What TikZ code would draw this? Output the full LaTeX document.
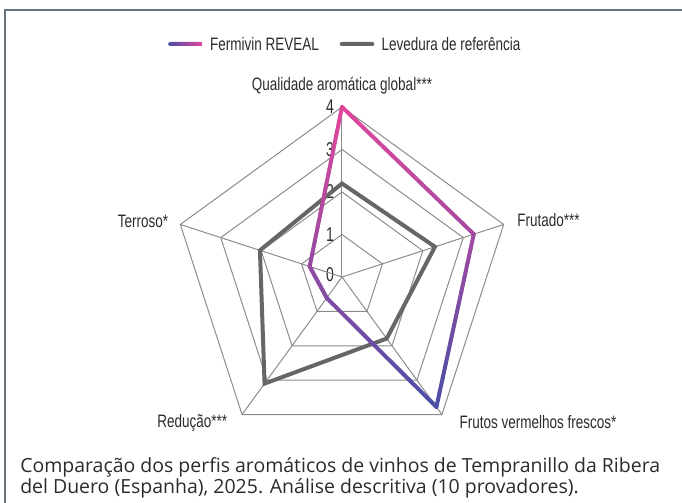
\documentclass[tikz,border=0pt]{standalone}
\usepackage{fontspec}
\newfontfamily\labelfont[FakeStretch=0.75]{Liberation Sans}
\newfontfamily\tickfont[FakeStretch=0.7]{Liberation Sans}
\newfontfamily\captionfont{Open Sans}
\usetikzlibrary{calc,positioning}
\definecolor{colorgrid}{HTML}{8C8C8C}
\definecolor{colorref}{HTML}{666666}
\definecolor{colorpink}{HTML}{E4479C}
\definecolor{colorblue}{HTML}{4B4FA6}
\definecolor{colorframe}{HTML}{66727C}
\definecolor{colortext}{HTML}{2B2B2B}
\tikzset{
  gridline/.style={colorgrid, line width=0.75pt},
  edgeref/.style={colorref, line width=3pt},
  edgefv/.style={line width=3pt, line cap=round},
  axislabel/.style={colortext, inner sep=1pt, font=\labelfont\fontsize{13.5}{15}\selectfont},
  ticklabel/.style={colortext, inner sep=0pt, font=\tickfont\fontsize{15}{16}\selectfont},
  legendbar/.style={minimum width=26pt, minimum height=3pt, inner sep=0pt, rounded corners=1.5pt},
  captiontext/.style={colortext, inner sep=0pt, align=left, font=\captionfont\fontsize{14.6}{15.75}\selectfont}
}

\begin{document}
\begin{tikzpicture}[x=0.75pt, y=0.75pt]
\useasboundingbox (-342,-226) rectangle (340,277);
\draw[colorframe, line width=1.2pt] (-337,-226) -- (-337,267) -- (340,267);

% grid
\coordinate (c) at (0,0);
\foreach \l in {1,...,4} {
  \draw[gridline] (90:\l*42.5) foreach \a in {18,-54,-126,162} {-- (\a:\l*42.5)} -- cycle;
  \node[ticklabel] (tick\l) at (-12,\l*42.5) {\l};
}
\node[ticklabel] (tick0) at (-12,2) {0};

\foreach \a/\n/\v/\w in {90/qual/4/2.2, 18/frut/3.26/2.3, -54/verm/3.78/1.79, -126/redu/0.61/3.1, 162/terr/0.8/2.03} {
  \coordinate (ax\n) at (\a:170);
  \coordinate (fv\n) at (\a:\v*42.5);
  \coordinate (rf\n) at (\a:\w*42.5);
  \draw[gridline] (c) -- (ax\n);
}

% axis labels
\node[axislabel, above=8pt of axqual] (lqual) {Qualidade aromática global***};
\node[axislabel, right=9pt of axfrut, yshift=3pt] (lfrut) {Frutado***};
\node[axislabel, right=12pt of axverm, yshift=-6pt] (lverm) {Frutos vermelhos frescos*};
\node[axislabel, left=10pt of axredu, yshift=-6pt] (lredu) {Redução***};
\node[axislabel, left=8pt of axterr, yshift=2pt] (lterr) {Terroso*};

% data
\draw[edgeref] (rfqual) -- (rffrut) -- (rfverm) -- (rfredu) -- (rfterr) -- cycle;
\foreach \a/\b/\pa/\pb in {qual/frut/100/58, frut/verm/58/0, verm/redu/0/36, redu/terr/36/47, terr/qual/47/100} {
  \foreach \t in {0,...,11} {
    \pgfmathtruncatemacro\p{\pa+(\pb-\pa)*(\t+0.5)/12}
    \draw[edgefv, colorpink!\p!colorblue] ($(fv\a)!\t/12!(fv\b)$) -- ($(fv\a)!{(\t+1)/12}!(fv\b)$);
  }
}

% legend
\node[legendbar, left color=colorblue, right color=colorpink] (lgfv) at (-156.5,233) {};
\node[axislabel, anchor=west, right=4pt of lgfv] (lgfvtext) {Fermivin REVEAL};
\node[legendbar, fill=colorref] (lgref) at (15,233) {};
\node[axislabel, anchor=west, right=4pt of lgref] (lgreftext) {Levedura de referência};

% caption
\node[captiontext, anchor=base west] (caption) at (-322,-216)
  {Comparação dos perfis aromáticos de vinhos de Tempranillo da Ribera\\
   del Duero (Espanha), 2025. Análise descritiva (10 provadores).};
\end{tikzpicture}
\end{document}
